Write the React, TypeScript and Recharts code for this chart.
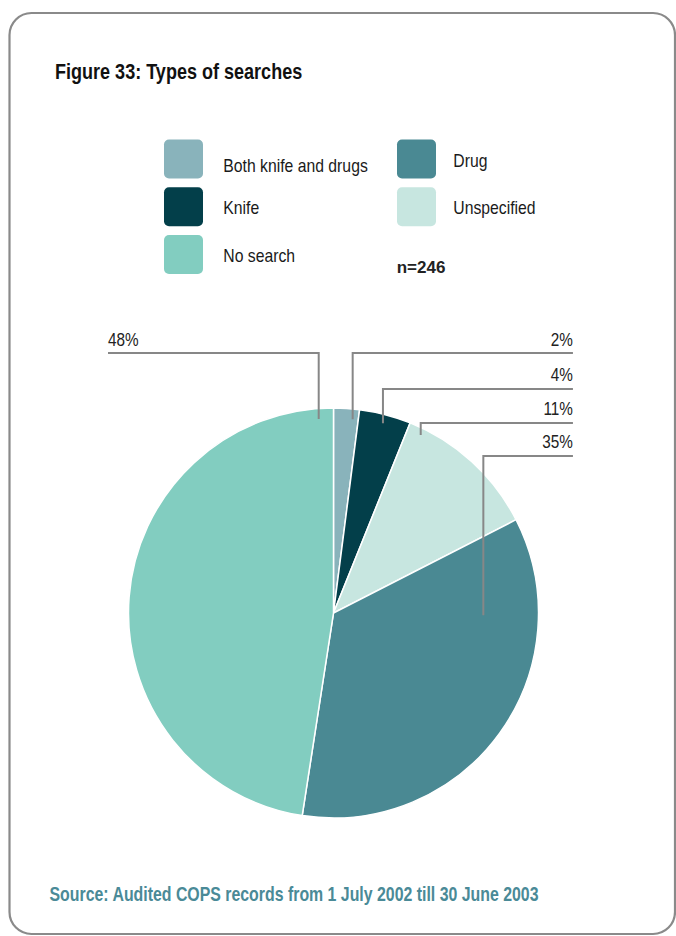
import React from 'react';
import { PieChart, Pie, Cell, Legend } from 'recharts';

// ---- data ----
const categories = ['Both knife and drugs', 'Knife', 'Unspecified', 'Drug', 'No search'];
const counts = [5, 10, 28, 86, 117];
const percentLabels = ['2%', '4%', '11%', '35%', '48%'];
const legendOrder = ['Both knife and drugs', 'Knife', 'No search', 'Drug', 'Unspecified'];
const sampleSize = 'n=246';
const titleText = 'Figure 33: Types of searches';
const sourceText = 'Source: Audited COPS records from 1 July 2002 till 30 June 2003';

// ---- styles ----
const colors: Record<string, string> = {
  'Both knife and drugs': '#89B3BB',
  Knife: '#033F4A',
  Unspecified: '#C7E6E0',
  Drug: '#4A8993',
  'No search': '#82CDC0',
};
const FONT = "'Liberation Sans', Arial, Helvetica, sans-serif";
const LINE = '#878787';

// leader-line geometry, in units of the pie radius (angle clockwise from 12 o'clock)
const leaders = [
  { angle: 5.65, r: 0.95, lineY: -1.268, side: 'right' },
  { angle: 14.6, r: 0.957, lineY: -1.093, side: 'right' },
  { angle: 26.1, r: 0.967, lineY: -0.927, side: 'right' },
  { angle: 90.9, r: 0.731, lineY: -0.766, side: 'right' },
  { angle: -4.36, r: 0.949, lineY: -1.268, side: 'left' },
];
const RIGHT_END = 1.168;
const LEFT_END = -1.1;

const data = categories.map((name, i) => ({ name, value: counts[i], label: percentLabels[i] }));

const renderLabel = (props: any) => {
  const { cx, cy, outerRadius, index } = props;
  const cfg = leaders[index];
  const R = outerRadius;
  const a = (cfg.angle * Math.PI) / 180;
  const ax = cx + cfg.r * R * Math.sin(a);
  const ay = cy - cfg.r * R * Math.cos(a);
  const ly = cy + cfg.lineY * R;
  const ex = cx + (cfg.side === 'right' ? RIGHT_END : LEFT_END) * R;
  const right = cfg.side === 'right';
  return (
    <g key={`lbl-${index}`}>
      <polyline
        points={`${ax},${ay} ${ax},${ly} ${ex},${ly}`}
        fill="none"
        stroke={LINE}
        strokeWidth={2}
      />
      <text
        transform={`translate(${ex},${ly - 7.5}) scale(0.85,1)`}
        textAnchor={right ? 'end' : 'start'}
        fontFamily={FONT}
        fontSize={18}
        fill="#222"
      >
        {percentLabels[index]}
      </text>
    </g>
  );
};

const LEG_COL_X = [164, 397];
const LEG_TEXT_X = [223.3, 453.3];
const LEG_ROW_Y = [139.5, 187.3, 235];

const renderLegend = (props: any) => {
  const payload: any[] = props.payload || [];
  const byName: Record<string, any> = {};
  payload.forEach((p) => {
    byName[p.value] = p;
  });
  return (
    <div style={{ position: 'relative', width: 676, height: 0 }}>
      <svg width={676} height={300} style={{ position: 'absolute', left: 0, top: 0, overflow: 'visible' }}>
        {legendOrder.map((name, i) => {
          const col = i < 3 ? 0 : 1;
          const row = i % 3;
          const p = byName[name];
          const fill = (p && p.color) || colors[name];
          const y = LEG_ROW_Y[row];
          return (
            <g key={name}>
              <rect x={LEG_COL_X[col]} y={y} width={39} height={39} rx={5} ry={5} fill={fill} />
              <text
                transform={`translate(${LEG_TEXT_X[col]},${y + (i === 0 ? 32 : 27)}) scale(0.89,1)`}
                fontFamily={FONT}
                fontSize={17.7}
                fill="#1a1a1a"
              >
                {name}
              </text>
            </g>
          );
        })}
        <text
          x={396.7}
          y={273.3}
          fontFamily={FONT}
          fontSize={17}
          fontWeight="bold"
          fill="#222"
        >
          {sampleSize}
        </text>
      </svg>
    </div>
  );
};

export default function App() {
  return (
    <div style={{ position: 'absolute', left: 0, top: 0, width: 676, height: 936, background: '#fff' }}>
      <svg width={676} height={936} style={{ position: 'absolute', left: 0, top: 0 }}>
        <rect x={9.5} y={13} width={665.5} height={921} rx={22} ry={22} fill="none" stroke="#8a8a8a" strokeWidth={2.2} />
        <text
          transform="translate(55,79) scale(0.82,1)"
          fontFamily={FONT}
          fontWeight="bold"
          fontSize={22}
          fill="#111"
        >
          {titleText}
        </text>
        <text
          transform="translate(49.5,900.7) scale(0.815,1)"
          fontFamily={FONT}
          fontWeight="bold"
          fontSize={19.5}
          fill="#4A8A97"
        >
          {sourceText}
        </text>
      </svg>
      <div style={{ position: 'absolute', left: 0, top: 0 }}>
        <PieChart width={676} height={936} margin={{ top: 0, right: 0, bottom: 0, left: 0 }}>
          <Pie
            data={data}
            dataKey="value"
            nameKey="name"
            cx={333.5}
            cy={613}
            outerRadius={205}
            startAngle={90}
            endAngle={-270}
            stroke="#ffffff"
            strokeWidth={1.5}
            label={renderLabel}
            labelLine={false}
            isAnimationActive={false}
          >
            {data.map((d) => (
              <Cell key={d.name} fill={colors[d.name]} />
            ))}
          </Pie>
          <Legend
            content={renderLegend}
            wrapperStyle={{ position: 'absolute', left: 0, top: 0, width: 676, height: 0 }}
          />
        </PieChart>
      </div>
    </div>
  );
}
